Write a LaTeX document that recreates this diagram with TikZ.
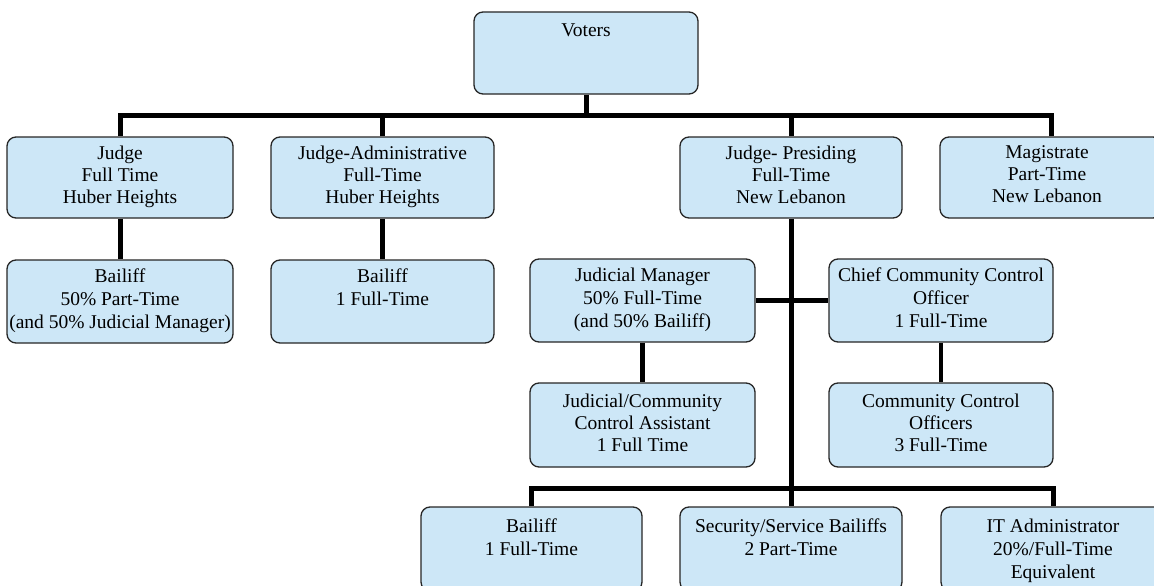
\documentclass[tikz,border=0pt]{standalone}
\usepackage{fontspec}
\setmainfont{Liberation Serif}
\usetikzlibrary{calc}
\definecolor{boxblue}{RGB}{205,231,247}
\pgfdeclarelayer{background}
\pgfsetlayers{background,main}
\begin{document}
\begin{tikzpicture}[x=1pt,y=-1pt,
  box/.style={draw=black!85, line width=1.3pt, fill=boxblue, rounded corners=9pt, inner sep=0pt},
  lbl/.style={inner sep=0pt, align=center, anchor=north, font=\fontsize{19.5}{22}\selectfont},
  lblw/.style={lbl, font=\fontsize{19.5}{23}\selectfont},
  conn/.style={line width=5pt, black},
  connt/.style={line width=4.2pt, black}]
\useasboundingbox (0,0) rectangle (1154,586);
\clip (0,0) rectangle (1154,586);

% boxes
\node[box, minimum width=224pt, minimum height=82pt] (voters) at (586,53) {};
\node[box, minimum width=226pt, minimum height=81pt] (j1) at (120,177.5) {};
\node[box, minimum width=223pt, minimum height=81pt] (j2) at (382.5,177.5) {};
\node[box, minimum width=222pt, minimum height=81pt] (jp) at (791,177.5) {};
\node[box, minimum width=222pt, minimum height=81pt] (mag) at (1051,177.5) {};
\node[box, minimum width=226pt, minimum height=83pt] (b1) at (120,301.5) {};
\node[box, minimum width=223pt, minimum height=83pt] (b2) at (382.5,301.5) {};
\node[box, minimum width=225pt, minimum height=83pt] (jm) at (642.5,300.5) {};
\node[box, minimum width=224pt, minimum height=83pt] (chief) at (941,300.5) {};
\node[box, minimum width=225pt, minimum height=84pt] (asst) at (642.5,425) {};
\node[box, minimum width=224pt, minimum height=84pt] (cco) at (941,425) {};
\node[box, minimum width=221pt, minimum height=84pt] (bb) at (531.5,549) {};
\node[box, minimum width=222pt, minimum height=84pt] (sec) at (791,549) {};
\node[box, minimum width=224pt, minimum height=84pt] (it) at (1053,549) {};

% labels
\node[lbl] (tvoters) at ([yshift=-12pt]voters.north) {Voters};
\node[lbl] (tj1) at ([yshift=-9pt]j1.north) {Judge\\Full Time\\Huber Heights};
\node[lbl] (tj2) at ([yshift=-9pt]j2.north) {Judge-Administrative\\Full-Time\\Huber Heights};
\node[lbl] (tjp) at ([yshift=-9pt]jp.north) {Judge- Presiding\\Full-Time\\New Lebanon};
\node[lbl] (tmag) at ([xshift=-4pt,yshift=-9pt]mag.north) {Magistrate\\Part-Time\\New Lebanon};
\node[lblw] (tb1) at ([yshift=-9pt]b1.north) {Bailiff\\50\% Part-Time\\(and 50\% Judicial Manager)};
\node[lblw] (tb2) at ([yshift=-9pt]b2.north) {Bailiff\\1 Full-Time};
\node[lblw] (tjm) at ([yshift=-9pt]jm.north) {Judicial Manager\\50\% Full-Time\\(and 50\% Bailiff)};
\node[lblw] (tchief) at ([yshift=-9pt]chief.north) {Chief Community Control\\Officer\\1 Full-Time};
\node[lbl] (tasst) at ([yshift=-11pt]asst.north) {Judicial/Community\\Control Assistant\\1 Full Time};
\node[lbl] (tcco) at ([yshift=-11pt]cco.north) {Community Control\\Officers\\3 Full-Time};
\node[lblw] (tbb) at ([yshift=-12pt]bb.north) {Bailiff\\1 Full-Time};
\node[lblw] (tsec) at ([yshift=-12pt]sec.north) {Security/Service Bailiffs\\2 Part-Time};
\node[lblw] (tit) at ([yshift=-12pt]it.north) {IT Administrator\\20\%/Full-Time\\Equivalent};

% connectors
\coordinate (bus1) at (586,115);
\coordinate (bus3) at (791,488);
\begin{pgfonlayer}{background}
\draw[conn] (voters.south) -- (bus1);
\draw[conn] (j1.north) |- (bus1);
\draw[conn] (j2.north) |- (bus1);
\draw[conn] (jp.north) |- (bus1);
\draw[conn] (mag.north) |- (bus1);
\draw[conn] (j1.south) -- (b1.north);
\draw[conn] (j2.south) -- (b2.north);
\draw[conn] (jp.south) -- (sec.north);
\draw[conn] (jm.east) -- (chief.west);
\draw[connt] (jm.south) -- (asst.north);
\draw[connt] (chief.south) -- (cco.north);
\draw[conn] (bb.north) |- (bus3);
\draw[conn] (it.north) |- (bus3);
\end{pgfonlayer}
\end{tikzpicture}
\end{document}
